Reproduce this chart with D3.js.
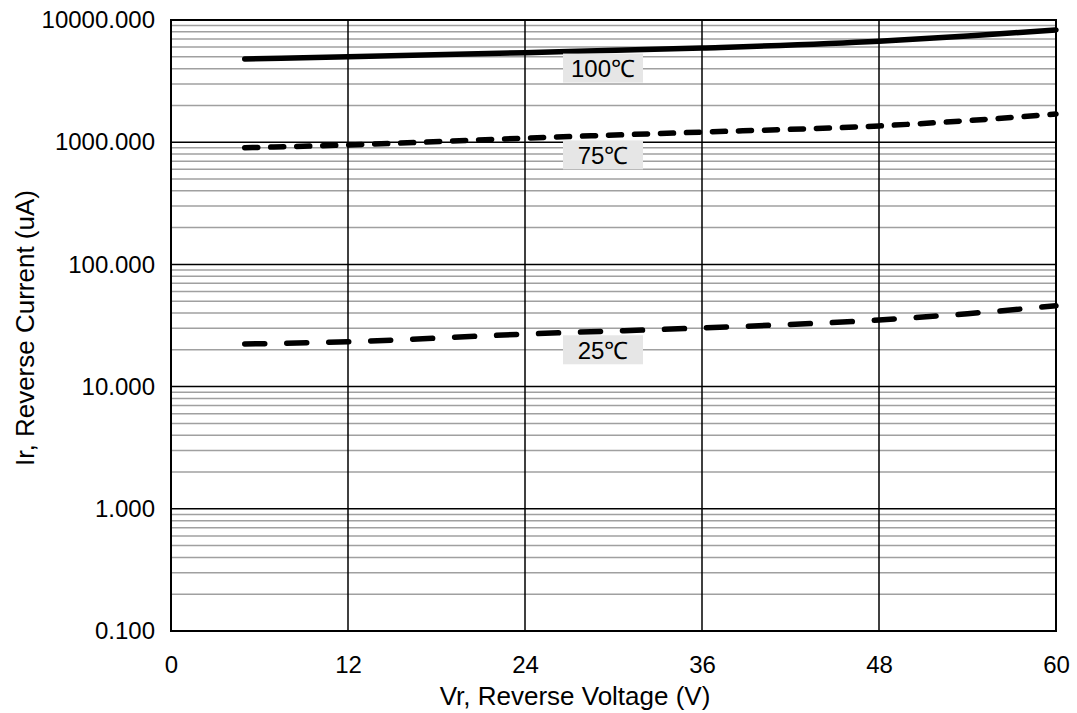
<!DOCTYPE html>
<html>
<head>
<meta charset="utf-8">
<script src="https://cdn.jsdelivr.net/npm/d3@7"></script>
<style>
body { margin: 0; background: #fff; }
text { font-family: "Liberation Sans", Arial, sans-serif; }
</style>
</head>
<body>
<svg id="chart" width="1077" height="713"></svg>
<script>
// data
var voltage = [5, 12, 24, 36, 48, 54, 60]
var ir100 = [4800, 5000, 5400, 5900, 6700, 7400, 8300]
var ir75 = [900, 950, 1080, 1210, 1360, 1500, 1700]
var ir25 = [22.3, 23.3, 26.9, 30.2, 35.1, 39.5, 45.9]
var xTicks = [0, 12, 24, 36, 48, 60]
var yTicks = [0.1, 1, 10, 100, 1000, 10000]
var seriesNames = ["100℃", "75℃", "25℃"]

var margin = { left: 171, top: 20, right: 21, bottom: 82 }
var W = 1077, H = 713
var svg = d3.select("#chart")

var x = d3.scaleLinear().domain([0, 60]).range([margin.left, W - margin.right])
var y = d3.scaleLog().domain([0.1, 10000]).range([H - margin.bottom, margin.top])

// minor grid (2..9 within each decade)
var minors = []
for (var d = 0; d < yTicks.length - 1; d++) {
    for (var k = 2; k <= 9; k++) minors.push(yTicks[d] * k)
}
svg.append("g").selectAll("line").data(minors).enter().append("line")
    .attr("x1", x(0)).attr("x2", x(60))
    .attr("y1", function(v) { return y(v) }).attr("y2", function(v) { return y(v) })
    .attr("stroke", "#a0a0a0").attr("stroke-width", 1.5)

// major grid
svg.append("g").selectAll("line").data(yTicks).enter().append("line")
    .attr("x1", x(0)).attr("x2", x(60))
    .attr("y1", function(v) { return y(v) }).attr("y2", function(v) { return y(v) })
    .attr("stroke", "#000").attr("stroke-width", 1.5)
svg.append("g").selectAll("line").data(xTicks).enter().append("line")
    .attr("y1", y(0.1)).attr("y2", y(10000))
    .attr("x1", function(v) { return x(v) }).attr("x2", function(v) { return x(v) })
    .attr("stroke", "#000").attr("stroke-width", 1.5)

svg.append("rect")
    .attr("x", x(0)).attr("y", y(10000))
    .attr("width", x(60) - x(0)).attr("height", y(0.1) - y(10000))
    .attr("fill", "none").attr("stroke", "#000").attr("stroke-width", 2)

// axes
var xAxis = svg.append("g").attr("transform", "translate(0," + y(0.1) + ")")
    .call(d3.axisBottom(x).tickValues(xTicks).tickSize(0).tickPadding(25))
var yAxis = svg.append("g").attr("transform", "translate(" + x(0) + ",0)")
    .call(d3.axisLeft(y).tickValues(yTicks).tickSize(0).tickPadding(16)
        .tickFormat(d3.format(".3f")))
xAxis.select(".domain").remove()
yAxis.select(".domain").remove()
svg.selectAll(".tick text").attr("font-size", 24).attr("fill", "#000")
    .attr("font-family", "Liberation Sans, Arial, sans-serif")

svg.append("text").attr("x", 575).attr("y", 705)
    .attr("text-anchor", "middle").attr("font-size", 26)
    .text("Vr, Reverse Voltage (V)")
svg.append("text")
    .attr("transform", "translate(34,328) rotate(-90)")
    .attr("text-anchor", "middle").attr("font-size", 26)
    .text("Ir, Reverse Current (uA)")

// curves
var line = d3.line()
    .x(function(d) { return x(d[0]) })
    .y(function(d) { return y(d[1]) })
    .curve(d3.curveMonotoneX)

var series = [
    { vals: ir100, dash: null, off: 17.5 },
    { vals: ir75, dash: "13,13", off: 19.5 },
    { vals: ir25, dash: "20,22", off: 18.5 }
]
series.forEach(function(s) {
    var pts = voltage.map(function(v, j) { return [v, s.vals[j]] })
    svg.append("path").datum(pts).attr("d", line)
        .attr("fill", "none").attr("stroke", "#000").attr("stroke-width", 5.5)
        .attr("stroke-linecap", "round")
        .attr("stroke-dasharray", s.dash)
})

// labels under each curve
series.forEach(function(s, i) {
    var cx = 603
    var vAt = d3.scaleLinear().domain(voltage).range(s.vals)(x.invert(cx))
    var cy = y(vAt) + s.off
    var g = svg.append("g")
    g.append("rect").attr("x", cx - 40).attr("y", cy - 14.5)
        .attr("width", 80).attr("height", 29).attr("fill", "#e6e6e6")
    g.append("text").attr("x", cx).attr("y", cy + 9)
        .attr("text-anchor", "middle").attr("font-size", 24)
        .text(seriesNames[i])
})
</script>
</body>
</html>
